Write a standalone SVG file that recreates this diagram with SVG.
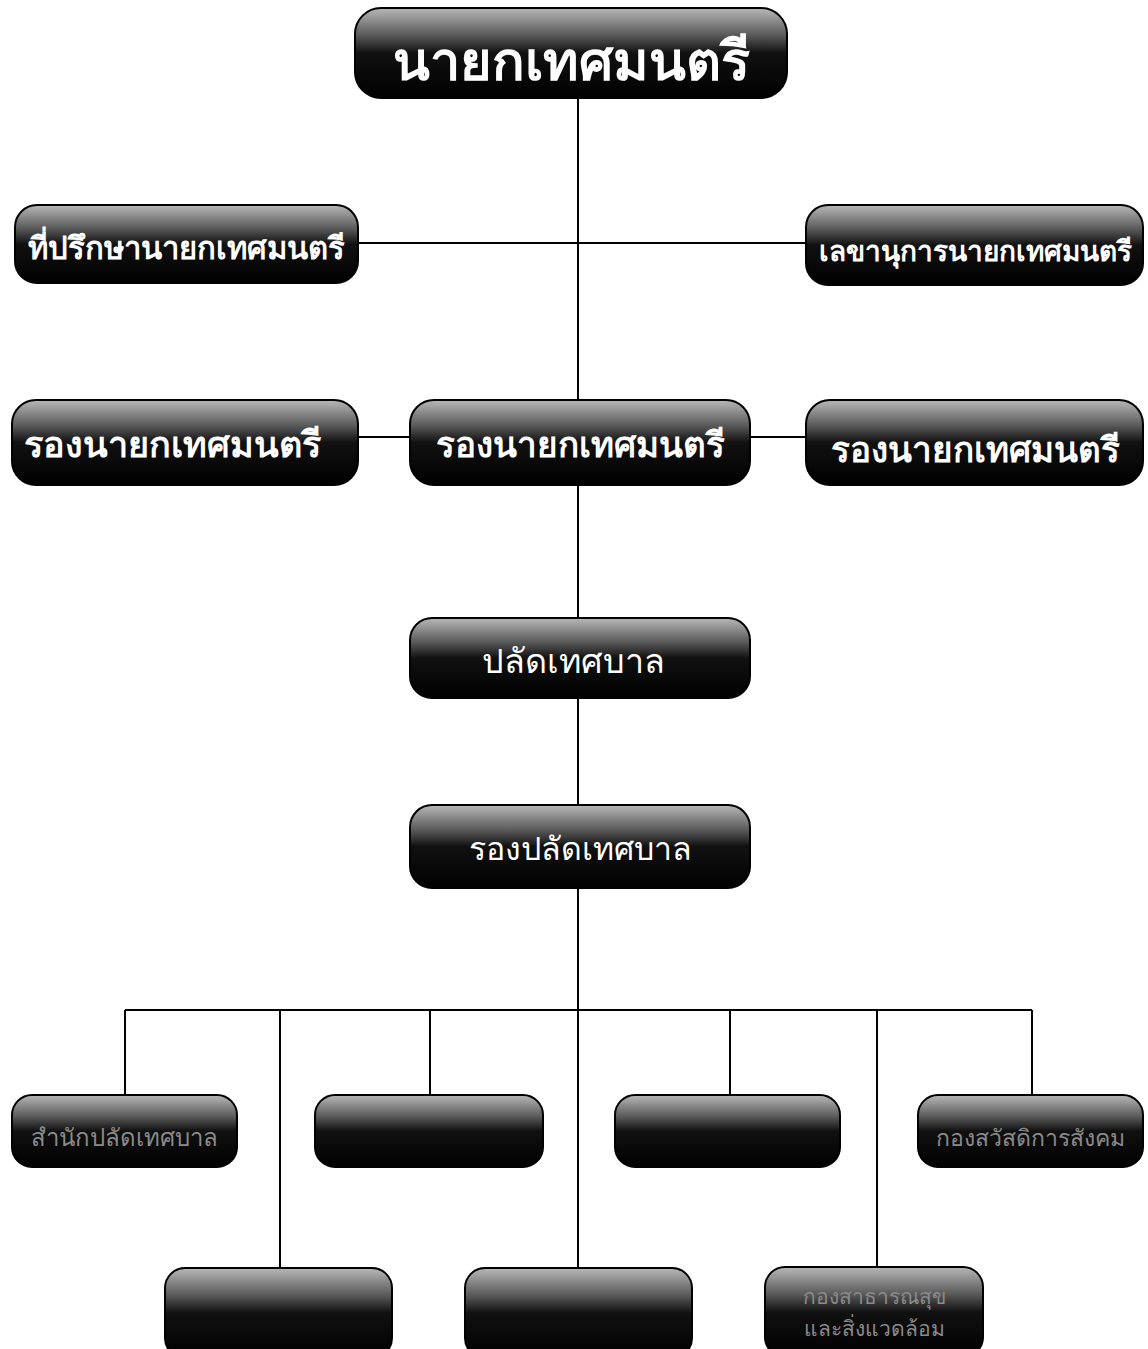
<svg xmlns="http://www.w3.org/2000/svg" width="1148" height="1349" viewBox="0 0 1148 1349">
<style>
.box{fill:url(#g);stroke:#000;stroke-width:2}
.t{font-family:"Noto Sans","DejaVu Sans",sans-serif;fill:#fff;text-anchor:middle}
.f{font-family:"Noto Sans","DejaVu Sans",sans-serif;fill:#8a8a8a;text-anchor:middle}
.ln{stroke:#000;stroke-width:2;fill:none}
</style>
<defs>
<linearGradient id="g" x1="0" y1="0" x2="0" y2="1">
<stop offset="0" stop-color="#b8b8b8"/>
<stop offset="0.3" stop-color="#5a5a5a"/>
<stop offset="0.5" stop-color="#111"/>
<stop offset="1" stop-color="#000"/>
</linearGradient>
</defs>
<rect width="1148" height="1349" fill="#fff"/>
<g id="connectors">
<path class="ln" d="M578 98V400M578 485V618M578 698V805M578 888V1300"/>
<path class="ln" d="M358 243H806"/>
<path class="ln" d="M358 437H410M750 437H806"/>
<path class="ln" d="M125 1010H1032M125 1010V1095M280 1010V1268M430 1010V1095M730 1010V1095M877 1010V1267M1032 1010V1095"/>
</g>
<g id="mayor"><rect class="box" x="355" y="8" width="432" height="90" rx="26"/><text class="t" x="571" y="80" font-size="54" font-weight="bold">นายกเทศมนตรี</text></g>
<g id="advisor"><rect class="box" x="15" y="205" width="343" height="78" rx="22"/><text class="t" x="186" y="259" font-size="31" font-weight="bold">ที่ปรึกษานายกเทศมนตรี</text></g>
<g id="secretary"><rect class="box" x="806" y="205" width="337" height="80" rx="22"/><text class="t" x="975" y="261" font-size="28" font-weight="bold">เลขานุการนายกเทศมนตรี</text></g>
<g id="deputy-left"><rect class="box" x="12" y="400" width="346" height="85" rx="24"/><text class="t" x="172" y="457" font-size="36" font-weight="bold">รองนายกเทศมนตรี</text></g>
<g id="deputy-center"><rect class="box" x="410" y="400" width="340" height="85" rx="24"/><text class="t" x="580" y="457" font-size="35" font-weight="bold">รองนายกเทศมนตรี</text></g>
<g id="deputy-right"><rect class="box" x="806" y="400" width="337" height="85" rx="24"/><text class="t" x="975" y="462" font-size="35" font-weight="bold">รองนายกเทศมนตรี</text></g>
<g id="clerk"><rect class="box" x="410" y="618" width="340" height="80" rx="22"/><text class="t" x="573" y="673" font-size="34">ปลัดเทศบาล</text></g>
<g id="deputy-clerk"><rect class="box" x="410" y="805" width="340" height="83" rx="22"/><text class="t" x="580" y="860" font-size="32">รองปลัดเทศบาล</text></g>
<g id="d1"><rect class="box" x="12" y="1095" width="225" height="72" rx="20"/><text class="f" x="124" y="1146" font-size="24">สำนักปลัดเทศบาล</text></g>
<g id="d2"><rect class="box" x="315" y="1095" width="228" height="72" rx="20"/></g>
<g id="d3"><rect class="box" x="615" y="1095" width="225" height="72" rx="20"/></g>
<g id="d4"><rect class="box" x="918" y="1095" width="225" height="72" rx="20"/><text class="f" x="1030" y="1146" font-size="23">กองสวัสดิการสังคม</text></g>
<g id="d5"><rect class="box" x="165" y="1268" width="227" height="90" rx="20"/></g>
<g id="d6"><rect class="box" x="465" y="1268" width="227" height="90" rx="20"/></g>
<g id="d7"><rect class="box" x="765" y="1267" width="218" height="90" rx="20"/><text class="f" x="874" y="1304" font-size="21">กองสาธารณสุข</text><text class="f" x="874" y="1336" font-size="21">และสิ่งแวดล้อม</text></g>
</svg>
